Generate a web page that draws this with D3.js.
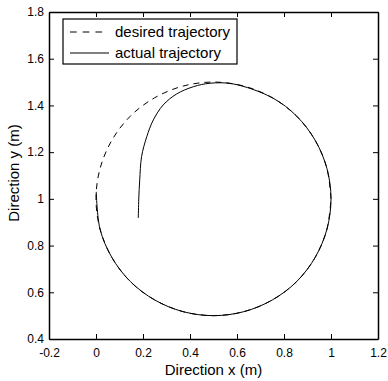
<!DOCTYPE html>
<html>
<head>
<meta charset="utf-8">
<script src="https://cdn.jsdelivr.net/npm/d3@7"></script>
<style>
    body { margin: 0; background: #fff; }
    text { font-family: Arial, "Liberation Sans", sans-serif; fill: #000; }
</style>
</head>
<body>
<div id="chart"></div>
<script>
// desired trajectory (a circle of radius 0.5 around (0.5, 1))
const desiredX = [1, 0.983, 0.933, 0.854, 0.75, 0.629, 0.5, 0.371, 0.25, 0.146, 0.067, 0.017, 0,
    0.017, 0.067, 0.146, 0.25, 0.371, 0.5, 0.629, 0.75, 0.854, 0.933, 0.983, 1];
const desiredY = [1, 1.129, 1.25, 1.354, 1.433, 1.483, 1.5, 1.483, 1.433, 1.354, 1.25, 1.129, 1,
    0.871, 0.75, 0.646, 0.567, 0.517, 0.5, 0.517, 0.567, 0.646, 0.75, 0.871, 1];

// actual trajectory: starts inside, bends up onto the circle and follows it clockwise
const actualX = [0.180, 0.182, 0.186, 0.194, 0.216, 0.244, 0.286, 0.343, 0.414, 0.485, 0.584,
    0.75, 0.854, 0.933, 0.983, 1, 0.983, 0.933, 0.854, 0.75, 0.629, 0.5, 0.371, 0.25, 0.146,
    0.067, 0.017, 0.001];
const actualY = [0.918, 1.0, 1.08, 1.181, 1.266, 1.338, 1.402, 1.449, 1.480, 1.495, 1.492,
    1.433, 1.354, 1.25, 1.129, 1, 0.871, 0.75, 0.646, 0.567, 0.517, 0.5, 0.517, 0.567, 0.646,
    0.75, 0.871, 1.03];

const xTicks = [-0.2, 0, 0.2, 0.4, 0.6, 0.8, 1, 1.2];
const yTicks = [0.4, 0.6, 0.8, 1, 1.2, 1.4, 1.6, 1.8];
const legendLabels = ["desired trajectory", "actual trajectory"];

const svgWidth = 388, svgHeight = 381;
const margin = { left: 49, top: 12, right: 10, bottom: 42 };
const width = svgWidth - margin.left - margin.right;
const height = svgHeight - margin.top - margin.bottom;

const svg = d3.select("#chart")
    .append("svg")
    .attr("width", svgWidth)
    .attr("height", svgHeight);

const x = d3.scaleLinear().domain([-0.2, 1.2]).range([margin.left, margin.left + width]);
const y = d3.scaleLinear().domain([0.4, 1.8]).range([margin.top + height, margin.top]);

const fmt = d => String(+d.toFixed(1));

// axes with inward ticks on all four sides (matlab box)
const tickLen = 5;
svg.append("g")
    .attr("transform", `translate(0, ${margin.top + height})`)
    .call(d3.axisBottom(x).tickValues(xTicks).tickFormat(fmt).tickSizeInner(-tickLen).tickSizeOuter(0).tickPadding(9));
svg.append("g")
    .attr("transform", `translate(0, ${margin.top})`)
    .call(d3.axisTop(x).tickValues(xTicks).tickFormat("").tickSizeInner(-tickLen).tickSizeOuter(0));
svg.append("g")
    .attr("transform", `translate(${margin.left}, 0)`)
    .call(d3.axisLeft(y).tickValues(yTicks).tickFormat(fmt).tickSizeInner(-tickLen).tickSizeOuter(0).tickPadding(5));
svg.append("g")
    .attr("transform", `translate(${margin.left + width}, 0)`)
    .call(d3.axisRight(y).tickValues(yTicks).tickFormat("").tickSizeInner(-tickLen).tickSizeOuter(0));

svg.selectAll(".domain").attr("stroke", "#000").attr("stroke-width", 1.5);
svg.selectAll(".tick line").attr("stroke", "#000");
svg.selectAll(".tick text")
    .style("font-family", "Arial, 'Liberation Sans', sans-serif")
    .style("font-size", "12px")
    .attr("fill", "#000");

// line generator
const line = d3.line()
    .x(d => x(d[0]))
    .y(d => y(d[1]))
    .curve(d3.curveCatmullRom);

const desired = desiredX.map((v, i) => [v, desiredY[i]]);
const actual = actualX.map((v, i) => [v, actualY[i]]);

svg.append("path")
    .datum(desired)
    .attr("fill", "none")
    .attr("stroke", "#000")
    .attr("stroke-width", 1)
    .attr("stroke-dasharray", "6,5")
    .attr("d", line);

svg.append("path")
    .datum(actual)
    .attr("fill", "none")
    .attr("stroke", "#000")
    .attr("stroke-width", 1)
    .attr("d", line);

// legend
const legend = svg.append("g");
legend.append("rect")
    .attr("x", 63).attr("y", 19)
    .attr("width", 174).attr("height", 45)
    .attr("fill", "#fff")
    .attr("stroke", "#000")
    .attr("stroke-width", 1.2);

legendLabels.forEach((label, i) => {
    const ly = 32 + i * 21;
    legend.append("line")
        .attr("x1", 70).attr("x2", i === 0 ? 104 : 109)
        .attr("y1", ly).attr("y2", ly)
        .attr("stroke", "#000")
        .attr("stroke-width", 1)
        .attr("stroke-dasharray", i === 0 ? "6.7,6" : null);
    legend.append("text")
        .attr("x", 115)
        .attr("y", ly)
        .attr("dy", "0.35em")
        .style("font-size", "15px")
        .text(label);
});

// axis labels
svg.append("text")
    .attr("x", margin.left + width / 2)
    .attr("y", 375)
    .style("text-anchor", "middle")
    .style("font-size", "15px")
    .text("Direction x (m)");

svg.append("text")
    .attr("transform", "translate(19, 173) rotate(-90)")
    .style("text-anchor", "middle")
    .style("font-size", "15px")
    .text("Direction y (m)");
</script>
</body>
</html>
